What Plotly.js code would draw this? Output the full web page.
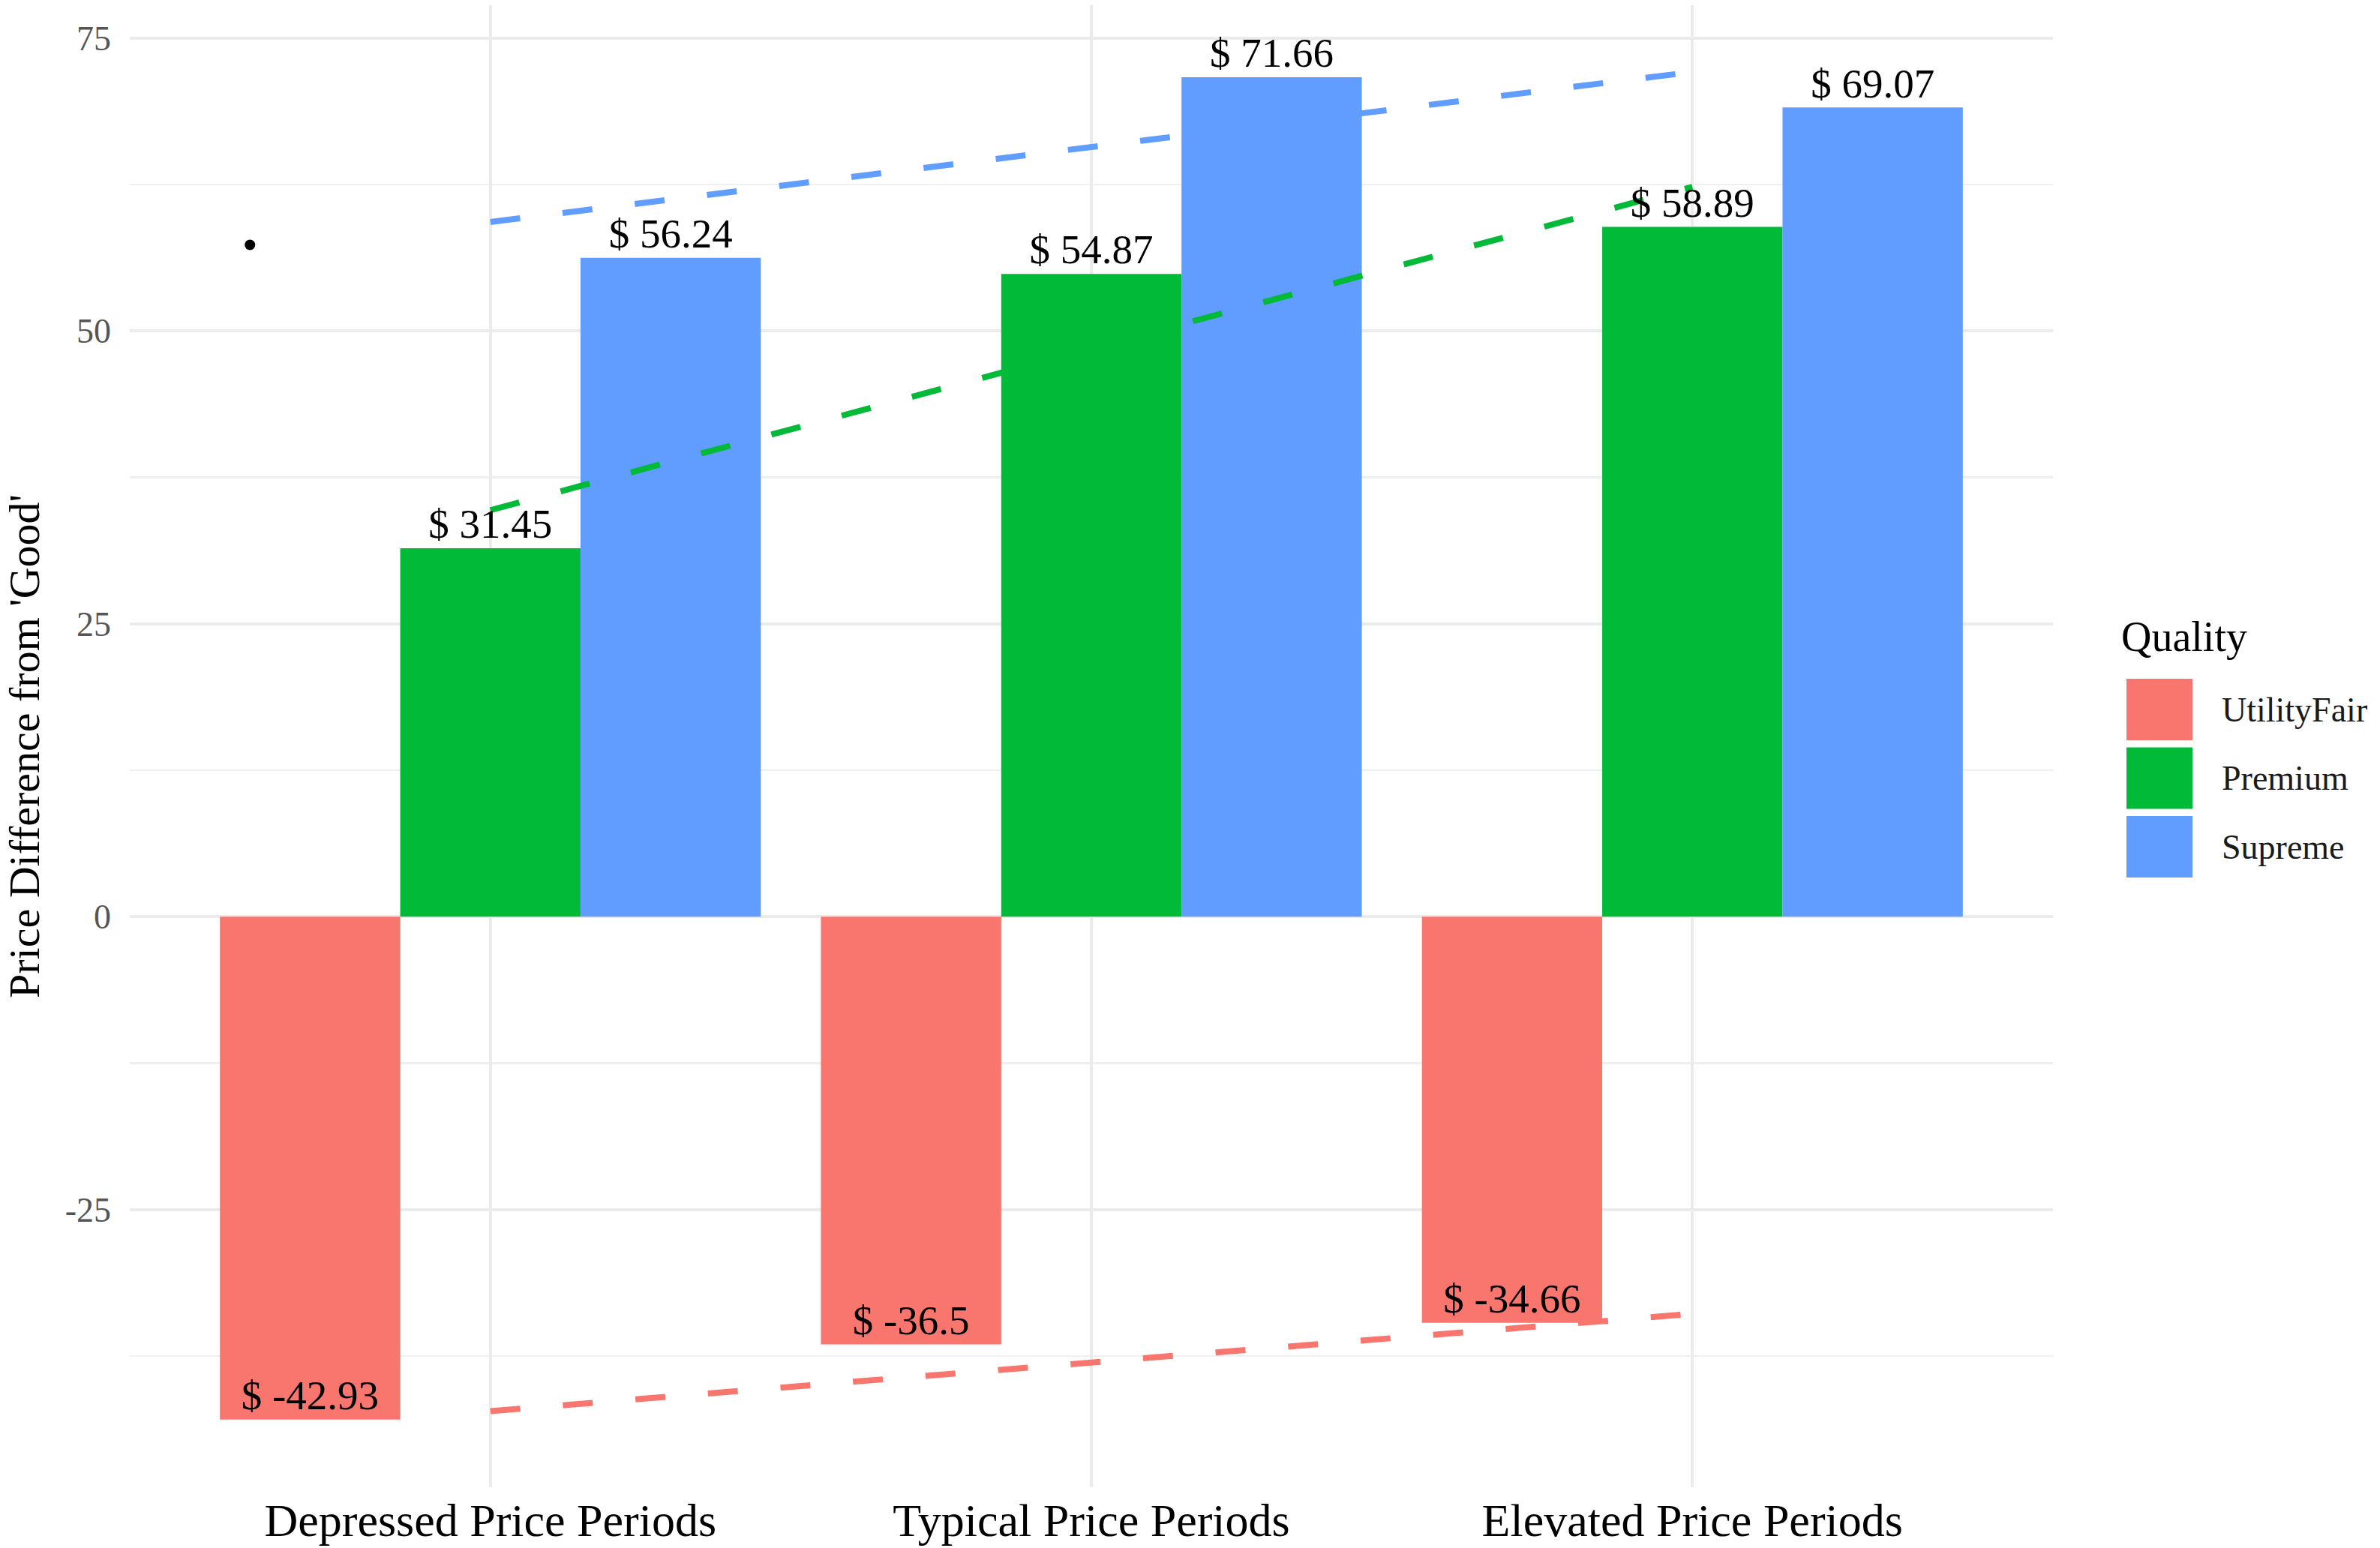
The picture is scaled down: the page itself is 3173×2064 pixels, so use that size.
<!DOCTYPE html>
<html>
<head>
<meta charset="utf-8">
<script src="https://cdn.plot.ly/plotly-3.0.1.min.js"></script>
<style>
  html, body { margin: 0; padding: 0; background: #ffffff; }
  #chart { width: 3173px; height: 2064px; }
</style>
</head>
<body>
<div id="chart"></div>
<script>
// ---- data ----
const categories = ['Depressed Price Periods', 'Typical Price Periods', 'Elevated Price Periods'];
const seriesNames = ['UtilityFair', 'Premium', 'Supreme'];
const utilityFair = [-42.93, -36.5, -34.66];
const premium = [31.45, 54.87, 58.89];
const supreme = [56.24, 71.66, 69.07];
// dashed trend lines: value at first and at last category
const trendUtilityFair = [-42.2, -33.9];
const trendPremium = [34.7, 62.3];
const trendSupreme = [59.3, 72.1];
// stray point in the upper-left of the panel (category-index units)
const strayX = [-0.4];
const strayY = [57.35];
const yTickVals = [-25, 0, 25, 50, 75];
const yTickText = ['-25', '0', '25', '50', '75'];
const yMinorVals = [-37.5, -12.5, 12.5, 37.5, 62.5];

// ---- styles ----
const colors = ['#F8766D', '#00BA38', '#619CFF'];
const serif = 'Liberation Serif, Times New Roman, serif';
const W = 3173, H = 2064;
const M = { l: 173, r: 436, t: 7, b: 81 };
const barWidth = 0.3;

const values = [utilityFair, premium, supreme];
const trends = [trendUtilityFair, trendPremium, trendSupreme];
const idx = categories.map((_, i) => i);

const traces = [];
values.forEach((v, k) => {
  traces.push({
    type: 'bar', x: idx, y: v, name: seriesNames[k],
    marker: { color: colors[k], line: { width: 0 } },
    showlegend: false, hoverinfo: 'skip'
  });
});
trends.forEach((t, k) => {
  traces.push({
    type: 'scatter', mode: 'lines', x: [idx[0], idx[idx.length - 1]], y: t,
    line: { color: colors[k], width: 8, dash: '40px,57px' },
    showlegend: false, hoverinfo: 'skip'
  });
});
values.forEach((v, k) => {
  traces.push({
    type: 'scatter', mode: 'text',
    x: idx.map(i => i + (k - 1) * barWidth), y: v,
    text: v.map(n => '$ ' + n),
    textposition: 'top center',
    textfont: { family: serif, size: 55, color: '#000000' },
    showlegend: false, hoverinfo: 'skip', cliponaxis: false
  });
});
traces.push({
  type: 'scatter', mode: 'markers', x: strayX, y: strayY,
  marker: { color: '#000000', size: 14 },
  showlegend: false, hoverinfo: 'skip'
});

// manual legend (large keys like the reference)
const plotW = W - M.l - M.r, plotH = H - M.t - M.b;
const px = x => (x - M.l) / plotW;
const py = y => (H - M.b - y) / plotH;
const shapes = [];
const annotations = [];
const keyLeft = 2835, keyW = 88, keyH = 82, keyTop0 = 905, keyStep = 91.5;
seriesNames.forEach((name, k) => {
  const top = keyTop0 + k * keyStep;
  shapes.push({
    type: 'rect', xref: 'paper', yref: 'paper',
    x0: px(keyLeft), x1: px(keyLeft + keyW), y0: py(top + keyH), y1: py(top),
    fillcolor: colors[k], line: { width: 0 }, layer: 'above'
  });
  annotations.push({
    xref: 'paper', yref: 'paper', x: px(2960), y: py(top + keyH / 2),
    xanchor: 'left', yanchor: 'middle', showarrow: false, text: name,
    font: { family: serif, size: 46, color: '#1a1a1a' }
  });
});
annotations.push({
  xref: 'paper', yref: 'paper', x: px(2826), y: py(849),
  xanchor: 'left', yanchor: 'middle', showarrow: false, text: 'Quality',
  font: { family: serif, size: 56, color: '#000000' }
});

const layout = {
  width: W, height: H,
  margin: M,
  paper_bgcolor: '#ffffff', plot_bgcolor: '#ffffff',
  barmode: 'group', bargap: 0.1, bargroupgap: 0,
  showlegend: false,
  xaxis: {
    type: 'linear', range: [-0.6, 2.6],
    tickvals: idx, ticktext: categories,
    showgrid: true, gridcolor: '#EBEBEB', gridwidth: 4,
    zeroline: false, showline: false, ticks: '',
    tickfont: { family: serif, size: 62, color: '#000000' },
    ticklabelstandoff: 2
  },
  yaxis: {
    range: [-48.7, 77.8],
    tickvals: yTickVals, ticktext: yTickText,
    showgrid: true, gridcolor: '#EBEBEB', gridwidth: 4,
    minor: { tickvals: yMinorVals, showgrid: true, gridcolor: '#EFEFEF', gridwidth: 2.5, ticks: '' },
    zeroline: false, showline: false, ticks: '',
    tickfont: { family: serif, size: 46, color: '#555555' },
    ticklabelstandoff: 24,
    title: { text: "Price Difference from 'Good'", font: { family: serif, size: 58, color: '#000000' }, standoff: 30 }
  },
  shapes: shapes,
  annotations: annotations
};

Plotly.newPlot('chart', traces, layout, { displayModeBar: false, staticPlot: true });
</script>
</body>
</html>
